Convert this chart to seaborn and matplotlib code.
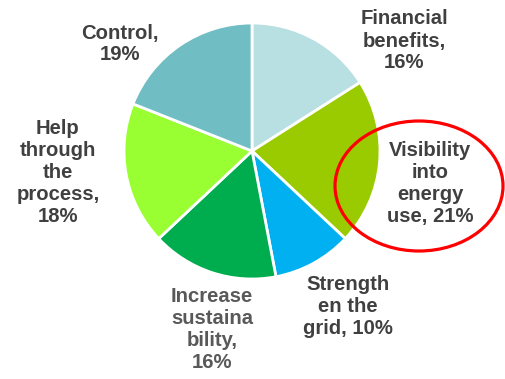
import matplotlib
matplotlib.use("Agg")
import matplotlib.pyplot as plt
from matplotlib.patches import Ellipse
import seaborn as sns

# Survey shares, clockwise from 12 o'clock
categories = ["Financial benefits", "Visibility into energy use", "Strengthen the grid",
              "Increase sustainability", "Help through the process", "Control"]
shares = [16, 21, 10, 16, 18, 19]
label_texts = ["Financial\nbenefits,\n16%",
               "Visibility\ninto\nenergy\nuse, 21%",
               "Strength\nen the\ngrid, 10%",
               "Increase\nsustaina\nbility,\n16%",
               "Help\nthrough\nthe\nprocess,\n18%",
               "Control,\n19%"]
slice_colors = ["#b8dfe2", "#99cb00", "#00b0f0", "#00ad4e", "#99ff33", "#70bec4"]

sns.set_theme(style="white")
plt.rcParams["font.family"] = ["Liberation Sans", "DejaVu Sans"]

W, H = 506, 379
fig = plt.figure(figsize=(W / 100, H / 100), dpi=100)
ax = fig.add_axes([0, 0, 1, 1])

ax.pie(shares, colors=slice_colors, startangle=90, counterclock=False,
       center=(252, H - 151), radius=128, frame=True,
       wedgeprops=dict(edgecolor="white", linewidth=2.0))
ax.set_xlim(0, W)
ax.set_ylim(0, H)
ax.set_aspect("equal")
ax.axis("off")

# label placement (pixel coordinates from the top-left)
label_pos = [(404, 41), (430, 184), (348, 307), (212, 330), (58, 173), (120, 44)]
label_colors = ["#404040", "#404040", "#404040", "#595959", "#404040", "#404040"]
for txt, (x, y), c in zip(label_texts, label_pos, label_colors):
    ax.text(x, H - y, txt, ha="center", va="center", fontsize=14.6,
            fontweight="bold", color=c, linespacing=1.2)

# highlight ring around the visibility label
ax.add_patch(Ellipse((419, H - 186), 168, 130, fill=False,
                     edgecolor="#ff0000", linewidth=2.3))

fig.savefig("out.png", dpi=100)
